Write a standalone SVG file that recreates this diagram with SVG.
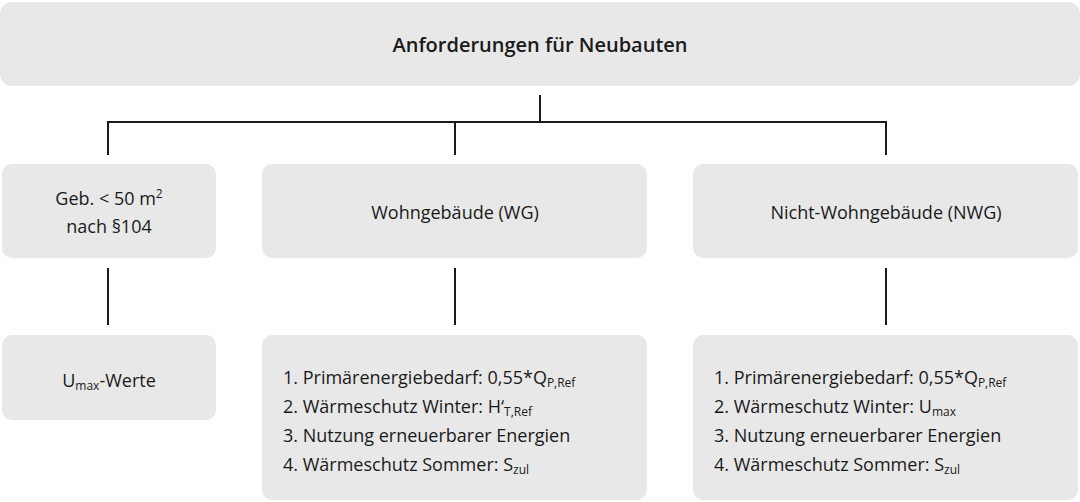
<svg xmlns="http://www.w3.org/2000/svg" width="1080" height="502" viewBox="0 0 1080 502">
<style>
.b{fill:#e8e8e8;stroke:none}
text{font-family:"Open Sans","Noto Sans",sans-serif;font-size:18px;fill:#1a1a1a}
.c{text-anchor:middle}
.s{font-size:12px}
.l{stroke:#1a1a1a;stroke-width:2;fill:none}
</style>
<rect width="1080" height="502" fill="#fff"/>
<g id="top"><rect class="b" x="0" y="2" width="1080" height="84" rx="12"/>
<text class="c" x="540" y="52" style="font-weight:600;font-size:20px">Anforderungen für Neubauten</text></g>
<g id="connectors">
<path class="l" d="M540 95V122M108 155V122H886V155M455 122V155M108 268V325M455 268V325M886 268V325"/>
</g>
<g id="geb"><rect class="b" x="2" y="164" width="214" height="94" rx="10"/>
<text class="c" x="109" y="205">Geb. &lt; 50 m<tspan class="s" dy="-7">2</tspan></text>
<text class="c" x="109" y="233">nach §104</text></g>
<g id="wg"><rect class="b" x="262" y="164" width="385" height="94" rx="10"/>
<text class="c" x="455" y="219">Wohngebäude (WG)</text></g>
<g id="nwg"><rect class="b" x="693" y="164" width="385" height="94" rx="10"/>
<text class="c" x="886" y="219">Nicht-Wohngebäude (NWG)</text></g>
<g id="umax"><rect class="b" x="2" y="335" width="214" height="85" rx="10"/>
<text class="c" x="109" y="387">U<tspan class="s" dy="3">max</tspan><tspan dy="-3">-Werte</tspan></text></g>
<g id="wgreq"><rect class="b" x="262" y="335" width="385" height="165" rx="10"/>
<text x="283" y="384">1. Primärenergiebedarf: 0,55*Q<tspan class="s" dy="3">P,Ref</tspan></text>
<text x="283" y="413">2. Wärmeschutz Winter: H‘<tspan class="s" dy="3">T,Ref</tspan></text>
<text x="283" y="442">3. Nutzung erneuerbarer Energien</text>
<text x="283" y="471">4. Wärmeschutz Sommer: S<tspan class="s" dy="3">zul</tspan></text></g>
<g id="nwgreq"><rect class="b" x="693" y="335" width="385" height="165" rx="10"/>
<text x="714" y="384">1. Primärenergiebedarf: 0,55*Q<tspan class="s" dy="3">P,Ref</tspan></text>
<text x="714" y="413">2. Wärmeschutz Winter: U<tspan class="s" dy="3">max</tspan></text>
<text x="714" y="442">3. Nutzung erneuerbarer Energien</text>
<text x="714" y="471">4. Wärmeschutz Sommer: S<tspan class="s" dy="3">zul</tspan></text></g>
</svg>
